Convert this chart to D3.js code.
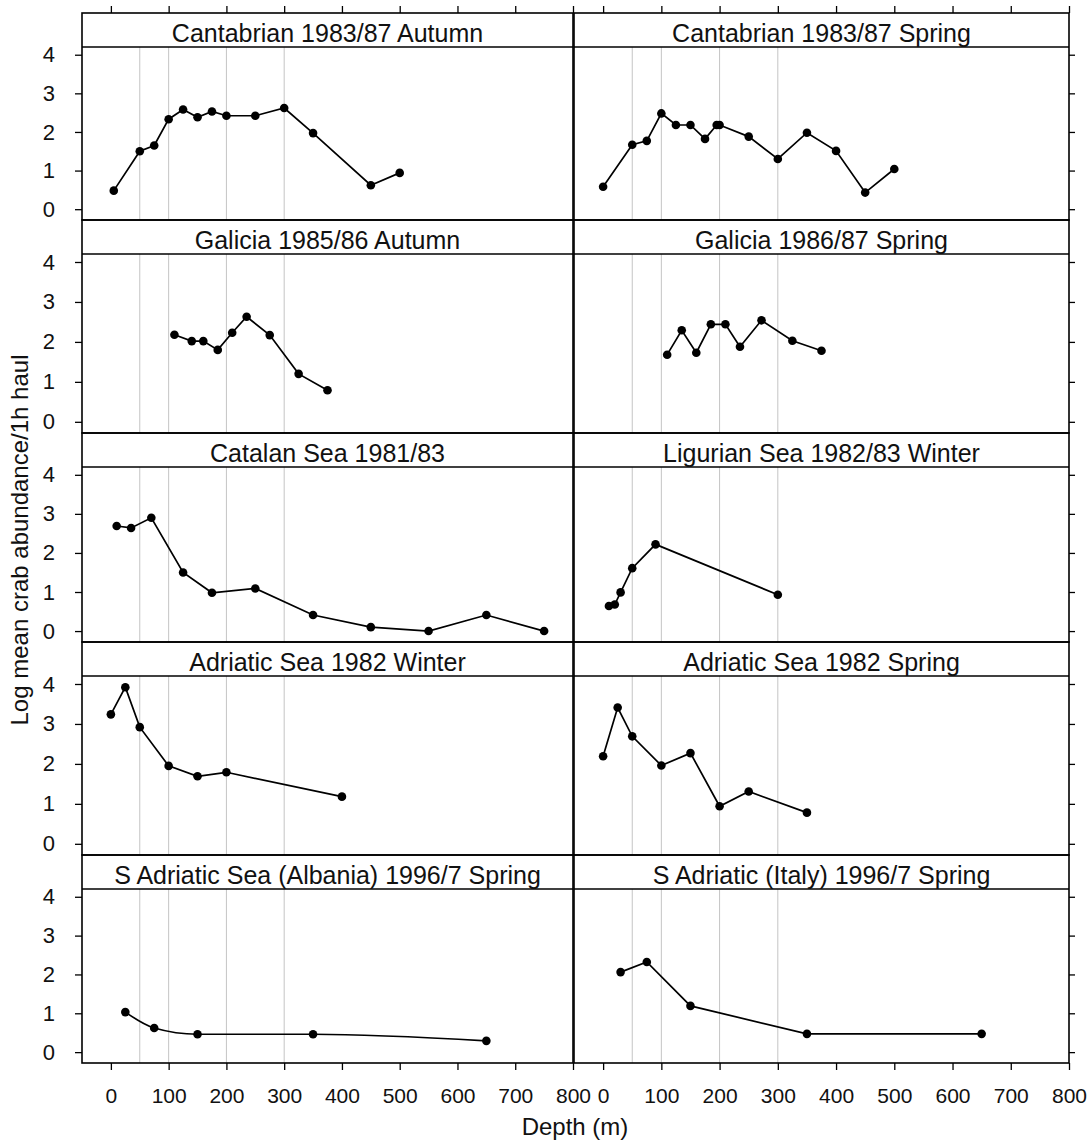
<!DOCTYPE html>
<html>
<head>
<meta charset="utf-8">
<script src="https://cdn.jsdelivr.net/npm/d3@7"></script>
<style>
  body { margin: 0; background: #fff; }
  text { font-family: "Liberation Sans", Arial, sans-serif; fill: #111; }
</style>
</head>
<body>
<svg id="chart" width="1089" height="1142"></svg>
<script>
// Axis ticks and reference depths
const depthTicks = [0, 100, 200, 300, 400, 500, 600, 700, 800];
const valueTicks = [0, 1, 2, 3, 4];
const gridDepths = [50, 100, 200, 300];

// Panel titles, read row by row (left, right)
const panelTitles = [
  "Cantabrian 1983/87 Autumn", "Cantabrian 1983/87 Spring",
  "Galicia 1985/86 Autumn", "Galicia 1986/87 Spring",
  "Catalan Sea 1981/83", "Ligurian Sea 1982/83 Winter",
  "Adriatic Sea 1982 Winter", "Adriatic Sea 1982 Spring",
  "S Adriatic Sea (Albania) 1996/7 Spring", "S Adriatic (Italy) 1996/7 Spring"
];

// Depth (m) and log mean abundance per survey
const cantabrianAutumnDepth = [5, 50, 75, 100, 125, 150, 175, 200, 250, 300, 350, 450, 500];
const cantabrianAutumnLog   = [0.48, 1.50, 1.65, 2.33, 2.58, 2.38, 2.53, 2.42, 2.42, 2.62, 1.97, 0.62, 0.94];

const cantabrianSpringDepth = [0, 50, 75, 100, 125, 150, 175, 195, 200, 250, 300, 350, 400, 450, 500];
const cantabrianSpringLog   = [0.58, 1.67, 1.77, 2.48, 2.18, 2.18, 1.82, 2.18, 2.18, 1.88, 1.30, 1.98, 1.51, 0.43, 1.04];

const galiciaAutumnDepth = [110, 140, 160, 185, 210, 235, 275, 325, 375];
const galiciaAutumnLog   = [2.18, 2.02, 2.02, 1.80, 2.23, 2.63, 2.17, 1.20, 0.79];

const galiciaSpringDepth = [110, 135, 160, 185, 210, 235, 272, 325, 375];
const galiciaSpringLog   = [1.68, 2.29, 1.73, 2.44, 2.44, 1.88, 2.54, 2.03, 1.78];

const catalanDepth = [10, 35, 70, 125, 175, 250, 350, 450, 550, 650, 750];
const catalanLog   = [2.69, 2.64, 2.90, 1.50, 0.98, 1.09, 0.41, 0.10, 0.00, 0.41, 0.00];

const ligurianDepth = [10, 20, 30, 50, 90, 300];
const ligurianLog   = [0.64, 0.68, 0.99, 1.61, 2.22, 0.93];

const adriaticWinterDepth = [0, 25, 50, 100, 150, 200, 400];
const adriaticWinterLog   = [3.24, 3.92, 2.92, 1.95, 1.69, 1.79, 1.18];

const adriaticSpringDepth = [0, 25, 50, 100, 150, 200, 250, 350];
const adriaticSpringLog   = [2.19, 3.41, 2.69, 1.96, 2.27, 0.94, 1.31, 0.78];

const albaniaDepth = [25, 75, 150, 350, 650];
const albaniaLog   = [1.03, 0.62, 0.46, 0.46, 0.29];

const italyDepth = [30, 75, 150, 350, 650];
const italyLog   = [2.06, 2.32, 1.19, 0.47, 0.47];

const panelDepths = [cantabrianAutumnDepth, cantabrianSpringDepth, galiciaAutumnDepth, galiciaSpringDepth,
  catalanDepth, ligurianDepth, adriaticWinterDepth, adriaticSpringDepth, albaniaDepth, italyDepth];
const panelLogs = [cantabrianAutumnLog, cantabrianSpringLog, galiciaAutumnLog, galiciaSpringLog,
  catalanLog, ligurianLog, adriaticWinterLog, adriaticSpringLog, albaniaLog, italyLog];
// the Albanian series is drawn as a smoothed curve
const panelSmooth = [false, false, false, false, false, false, false, false, true, false];

// Layout: column edges, row edges, title strip height
const columns = [[82, 573], [574, 1069]];
const rowEdges = [13, 220, 433, 642, 855, 1063];
const stripH = 34, nRows = 5;

const svg = d3.select("#chart");

panelTitles.forEach((title, i) => {
  const row = Math.floor(i / 2), col = i % 2;
  const [x0, x1] = columns[col];
  const rowTop = rowEdges[row];
  const stripBottom = rowTop + stripH;
  const rowBottom = rowEdges[row + 1];

  const x = d3.scaleLinear().domain([-50, 800]).range([x0, x1]);
  const y = d3.scaleLinear().domain([-0.28, 4.2]).range([rowBottom, stripBottom]);

  const g = svg.append("g");

  // depth reference lines
  g.selectAll("line.grid").data(gridDepths).join("line")
    .attr("class", "grid")
    .attr("x1", d => x(d)).attr("x2", d => x(d))
    .attr("y1", stripBottom).attr("y2", rowBottom)
    .attr("stroke", "#c4c4c4").attr("stroke-width", 1);

  // series
  const pts = panelDepths[i].map((d, k) => [d, panelLogs[i][k]]);
  const line = d3.line().x(d => x(d[0])).y(d => y(d[1]))
    .curve(panelSmooth[i] ? d3.curveMonotoneX : d3.curveLinear);
  g.append("path").datum(pts)
    .attr("d", line).attr("fill", "none")
    .attr("stroke", "#000").attr("stroke-width", 1.7);
  g.selectAll("circle").data(pts).join("circle")
    .attr("cx", d => x(d[0])).attr("cy", d => y(d[1]))
    .attr("r", 4.3).attr("fill", "#000");

  // y axis
  if (col === 0) {
    const ax = g.append("g").attr("transform", `translate(${x0},0)`)
      .call(d3.axisLeft(y).tickValues(valueTicks).tickSize(7).tickPadding(20).tickFormat(d3.format("d")));
    ax.select(".domain").remove();
    ax.selectAll("text").attr("font-size", 22);
    ax.selectAll("line").attr("stroke", "#000").attr("stroke-width", 1.3);
  } else {
    const ax = g.append("g").attr("transform", `translate(${x1},0)`)
      .call(d3.axisRight(y).tickValues(valueTicks).tickSize(6).tickFormat(""));
    ax.select(".domain").remove();
    ax.selectAll("line").attr("stroke", "#000").attr("stroke-width", 1.3);
  }

  // top ticks on the first row
  if (row === 0) {
    const ax = g.append("g").attr("transform", `translate(0,${rowTop})`)
      .call(d3.axisTop(x).tickValues(depthTicks).tickSize(7).tickFormat(""));
    ax.select(".domain").remove();
    ax.selectAll("line").attr("stroke", "#000").attr("stroke-width", 1.3);
  }

  // bottom depth axis on the last row
  if (row === nRows - 1) {
    const ax = g.append("g").attr("transform", `translate(0,${rowBottom})`)
      .call(d3.axisBottom(x).tickValues(depthTicks).tickSize(7).tickPadding(18));
    ax.select(".domain").remove();
    ax.selectAll("text").attr("font-size", 21);
    ax.selectAll("line").attr("stroke", "#000").attr("stroke-width", 1.3);
  }

  // panel frame and title strip
  g.append("rect")
    .attr("x", x0).attr("y", rowTop).attr("width", x1 - x0).attr("height", rowBottom - rowTop)
    .attr("fill", "none").attr("stroke", "#000").attr("stroke-width", 1.6);
  g.append("line")
    .attr("x1", x0).attr("x2", x1).attr("y1", stripBottom).attr("y2", stripBottom)
    .attr("stroke", "#000").attr("stroke-width", 1.6);
  g.append("text")
    .attr("x", (x0 + x1) / 2).attr("y", stripBottom - 5)
    .attr("text-anchor", "middle").attr("font-size", 25)
    .text(title);
});

// axis titles
svg.append("text")
  .attr("x", 575).attr("y", 1135)
  .attr("text-anchor", "middle").attr("font-size", 24)
  .text("Depth (m)");

svg.append("text")
  .attr("transform", "translate(28,540) rotate(-90)")
  .attr("text-anchor", "middle").attr("font-size", 24)
  .text("Log mean crab abundance/1h haul");
</script>
</body>
</html>
